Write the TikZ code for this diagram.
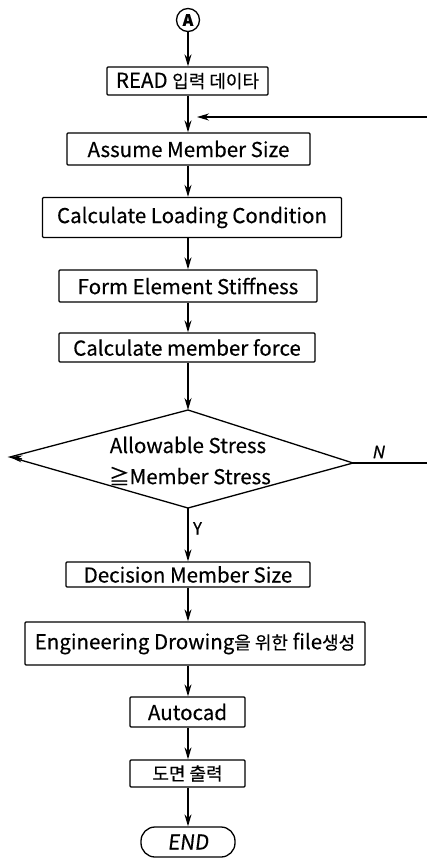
\documentclass[tikz,border=0pt]{standalone}
\usepackage{fontspec}
\setmainfont{Noto Sans CJK KR}[FakeBold=0.4]
\usetikzlibrary{arrows.meta}

\begin{document}
\begin{tikzpicture}[x=1pt,y=-1pt,
  line width=1.3pt,
  lbl/.style={font=\fontsize{20.5}{23}\selectfont},
  stepbox/.style={draw, rounded corners=1pt, inner sep=0pt, lbl},
  flow/.style={-{Stealth[length=12pt,width=7pt]}},
  ]
\useasboundingbox (0,0) rectangle (427,860);

% connector node and process boxes
\node[draw, circle, minimum size=23pt, inner sep=0pt,
      font=\fontsize{16}{16}\selectfont\bfseries] (circ) at (188,20) {A};
\node[stepbox, minimum width=161pt, minimum height=28pt] (read)   at (187.5,81)  {READ {\fontsize{18}{20}\selectfont 입력 데이타}};
\node[stepbox, minimum width=243pt, minimum height=32pt] (assume) at (188.5,149) {Assume Member Size};
\node[stepbox, minimum width=299pt, minimum height=40pt] (cload)  at (192,217.5) {Calculate Loading Condition};
\node[stepbox, minimum width=258pt, minimum height=32pt] (form)   at (188,286)   {Form Element Stiffness};
\node[stepbox, minimum width=256pt, minimum height=29pt] (cforce) at (187,347.5) {Calculate member force};

% decision diamond
\coordinate (dtop)   at (188,410);
\coordinate (dright) at (353,463);
\coordinate (dbot)   at (188,508);
\coordinate (dleft)  at (10,457);
\coordinate (dleftin) at (22,459);
\draw (dtop) -- (dright) -- (dbot) -- (dleft) -- cycle;
\node[lbl] (allow) at (188,445) {Allowable Stress};
\node[lbl] (mstress) at (190,476) {≧Member Stress};
\draw[flow] (dleftin) -- (dleft);

\node[stepbox, minimum width=244pt, minimum height=25pt] (decide) at (188,574.5) {Decision Member Size};
\node[stepbox, minimum width=340pt, minimum height=43pt] (eng)    at (195,643.5) {Engineering Drowing{\fontsize{18}{20}\selectfont 을 위한} file{\fontsize{18}{20}\selectfont 생성}};
\node[stepbox, minimum width=115pt, minimum height=30pt] (acad)   at (187.5,712) {Autocad};
\node[stepbox, minimum width=115pt, minimum height=27pt] (plot)   at (187.5,773.5) {{\fontsize{18}{20}\selectfont 도면 출력}};
\node[draw, rounded corners=14pt, inner sep=0pt, lbl,
      minimum width=94pt, minimum height=30pt] (endn) at (188,842) {\addfontfeature{FakeSlant=0.12}END};

% main flow
\draw[flow] (circ.south)  -- (read.north -| circ);
\draw[flow] (read.south -| circ) -- (assume.north -| circ);
\draw[flow] (assume.south -| circ) -- (cload.north -| circ);
\draw[flow] (cload.south -| circ) -- (form.north -| circ);
\draw[flow] (form.south -| circ) -- (cforce.north -| circ);
\draw[flow] (cforce.south -| circ) -- (dtop);
\draw[flow] (dbot) -- (decide.north -| circ) node[pos=0.38, right=1pt, font=\fontsize{17}{17}\selectfont] (ylab) {Y};
\draw[flow] (decide.south -| circ) -- (eng.north -| circ);
\draw[flow] (eng.south -| circ) -- (acad.north -| circ);
\draw[flow] (acad.south -| circ) -- (plot.north -| circ);
\draw[flow] (plot.south -| circ) -- (endn.north -| circ);

% loop-back and "N" branch
\coordinate (fbin)  at (427,117);
\coordinate (fbtip) at (197,117);
\draw[flow] (fbin) -- (fbtip);
\coordinate (nout) at (427,463);
\draw (dright) -- (nout);
\node[font=\fontsize{17}{17}\selectfont\addfontfeature{FakeSlant=0.2}] (nlab) at (378,452) {N};
\end{tikzpicture}
\end{document}
